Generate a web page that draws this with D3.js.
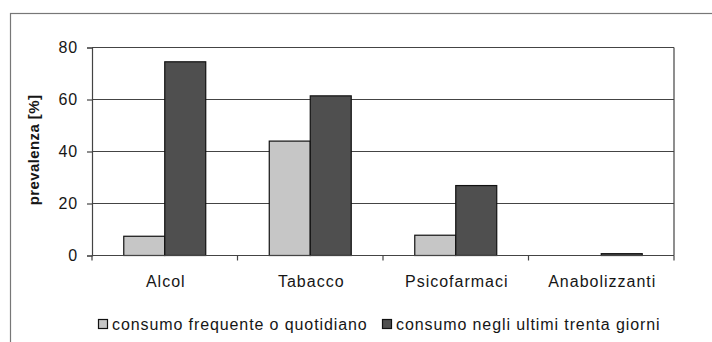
<!DOCTYPE html>
<html>
<head>
<meta charset="utf-8">
<script src="https://cdn.jsdelivr.net/npm/d3@7"></script>
<style>
  html, body { margin: 0; padding: 0; background: #fff; }
  svg { display: block; }
  text { font-family: "Liberation Sans", Arial, sans-serif; fill: #161616; }
</style>
</head>
<body>
<svg id="chart" width="712" height="342"></svg>
<script>
// Substances and prevalence (%) for the two consumption patterns
const categories = ["Alcol", "Tabacco", "Psicofarmaci", "Anabolizzanti"];
const seriesNames = ["consumo frequente o quotidiano", "consumo negli ultimi trenta giorni"];
const frequente = [7.4, 44.0, 7.8, 0];
const trentaGiorni = [74.5, 61.4, 26.9, 0.7];
const yTicks = [0, 20, 40, 60, 80];
const yLabel = "prevalenza [%]";

const colors = ["#c6c6c6", "#4f4f4f"];
const series = [frequente, trentaGiorni];

const svg = d3.select("#chart");
const margin = { left: 92, right: 38, top: 47.5, bottom: 86.5 };
const W = 712, H = 342;
const plotW = W - margin.left - margin.right;
const plotH = H - margin.top - margin.bottom;

// outer chart frame
svg.append("rect")
  .attr("x", 10.5).attr("y", 13.5)
  .attr("width", 720).attr("height", 340)
  .attr("fill", "none").attr("stroke", "#777").attr("stroke-width", 1.2);

const g = svg.append("g").attr("transform", `translate(${margin.left},${margin.top})`);

const x = d3.scaleBand().domain(categories).range([0, plotW]).paddingInner(0).paddingOuter(0);
const x1 = d3.scaleBand().domain(d3.range(series.length)).range([0, x.bandwidth()])
  .paddingInner(0).paddingOuter(0.775);
const y = d3.scaleLinear().domain([0, 80]).range([plotH, 0]);

// horizontal gridlines
g.selectAll("line.grid").data(yTicks.filter(t => t > 0)).join("line")
  .attr("class", "grid")
  .attr("x1", 0).attr("x2", plotW)
  .attr("y1", d => y(d)).attr("y2", d => y(d))
  .attr("stroke", "#444").attr("stroke-width", 1.2);

// right border of plot area
g.append("line").attr("x1", plotW).attr("x2", plotW).attr("y1", 0).attr("y2", plotH)
  .attr("stroke", "#444").attr("stroke-width", 1.2);

// bars
categories.forEach((c, i) => {
  series.forEach((s, j) => {
    const v = s[i];
    if (v <= 0) return;
    g.append("rect")
      .attr("x", x(c) + x1(j))
      .attr("y", y(v))
      .attr("width", x1.bandwidth())
      .attr("height", y(0) - y(v))
      .attr("fill", colors[j])
      .attr("stroke", "#111").attr("stroke-width", 1.2);
  });
});

// y axis
const yAxis = g.append("g").call(d3.axisLeft(y).tickValues(yTicks).tickSize(5).tickPadding(9).tickFormat(d3.format("d")));
yAxis.select(".domain").attr("stroke", "#444").attr("stroke-width", 1.2);
yAxis.selectAll(".tick line").attr("stroke", "#444").attr("stroke-width", 1.2);
yAxis.selectAll(".tick text").attr("font-size", 16).attr("fill", "#161616")
  .attr("letter-spacing", 0.8)
  .style("font-family", "'Liberation Sans', Arial, sans-serif");

// x axis with ticks between categories
const xAxis = g.append("g").attr("transform", `translate(0,${plotH})`);
xAxis.append("line").attr("x1", 0).attr("x2", plotW).attr("y1", 0).attr("y2", 0)
  .attr("stroke", "#444").attr("stroke-width", 1.2);
const bounds = categories.map(c => x(c)).concat([plotW]);
xAxis.selectAll("line.tk").data(bounds).join("line").attr("class", "tk")
  .attr("x1", d => d).attr("x2", d => d).attr("y1", 0).attr("y2", 5)
  .attr("stroke", "#444").attr("stroke-width", 1.2);
xAxis.selectAll("text.cat").data(categories).join("text").attr("class", "cat")
  .attr("x", d => x(d) + x.bandwidth() / 2 + 1).attr("y", 31.5)
  .attr("text-anchor", "middle").attr("font-size", 16).attr("letter-spacing", 1)
  .text(d => d);

// y axis title
svg.append("text")
  .attr("transform", `translate(39,150) rotate(-90)`)
  .attr("text-anchor", "middle").attr("font-size", 15).attr("font-weight", "bold")
  .attr("letter-spacing", 0.4).text(yLabel);

// legend
const legend = svg.append("g").attr("transform", "translate(98,330)");
const legendX = [0, 284];
seriesNames.forEach((n, j) => {
  const lg = legend.append("g").attr("transform", `translate(${legendX[j]},0)`);
  lg.append("rect").attr("x", 0.5).attr("y", -10.5).attr("width", 9).attr("height", 9)
    .attr("fill", colors[j]).attr("stroke", "#111").attr("stroke-width", 1.2);
  lg.append("text").attr("x", 14).attr("y", 0).attr("font-size", 16)
    .attr("letter-spacing", 0.9).text(n);
});
</script>
</body>
</html>
